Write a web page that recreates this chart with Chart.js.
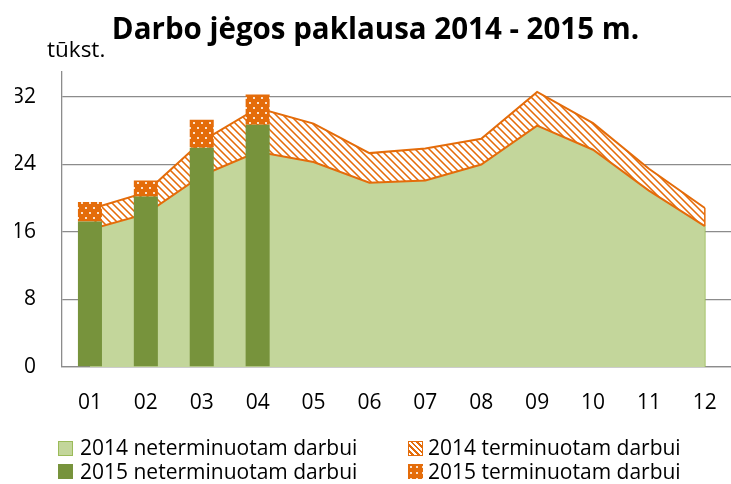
<!DOCTYPE html>
<html><head><meta charset="utf-8">
<script src="https://cdn.jsdelivr.net/npm/chart.js@4"></script>
<style>
html,body{margin:0;padding:0;overflow:hidden;background:#fff;width:731px;height:484px}
#wrap{position:relative;width:740px;height:484px}
#c{position:absolute;left:0;top:0}
.unit{position:absolute;left:47px;top:37.5px;font:22.5px "Open Sans";line-height:1;color:#000;white-space:nowrap}
.item{position:absolute;white-space:nowrap;font:21px "Open Sans";line-height:1;color:#000}
.sw{position:absolute;top:3.5px;left:0;width:15px;height:15px;box-sizing:border-box}
.item span.t{position:absolute;top:0}
</style></head>
<body>
<div id="wrap">
<canvas id="c" width="740" height="484"></canvas>
<div class="unit">tūkst.</div>
<div id="legend"></div>
</div>
<script>
const categories = ['01','02','03','04','05','06','07','08','09','10','11','12'];
const neterm2014 = [16.3, 18.15, 22.7, 25.5, 24.3, 21.85, 22.1, 24.0, 28.6, 25.75, 20.9, 16.7];
const term2014   = [2.4, 2.55, 4.05, 5.2, 4.55, 3.5, 3.8, 3.05, 4.0, 3.15, 2.6, 2.15];
const neterm2015 = [17.25, 20.2, 26.0, 28.7, null, null, null, null, null, null, null, null];
const term2015   = [2.3, 1.9, 3.3, 3.6, null, null, null, null, null, null, null, null];
const yTicks = [0, 8, 16, 24, 32];
const titleText = 'Darbo jėgos paklausa 2014 - 2015 m.';
const seriesNames = ['2014 neterminuotam darbui','2014 terminuotam darbui','2015 neterminuotam darbui','2015 terminuotam darbui'];

const LIGHT = '#C3D69B', LIGHT_BORDER = '#9BBB59', DARK = '#77933C', ORANGE = '#E46C0A', GRID = '#8c8c8c';

function stripePattern(){
  const p = 7, cv = document.createElement('canvas'); cv.width = p; cv.height = p;
  const ctx = cv.getContext('2d'); const img = ctx.createImageData(p, p);
  for (let y = 0; y < p; y++) for (let x = 0; x < p; x++) {
    const d = ((x - y) % p + p) % p; let c;
    if (d === 0) c = [228,108,10]; else if (d === 1 || d === 6) c = [240,168,110]; else c = [255,255,255];
    const i = (y*p + x)*4; img.data[i]=c[0]; img.data[i+1]=c[1]; img.data[i+2]=c[2]; img.data[i+3]=255;
  }
  ctx.putImageData(img, 0, 0);
  return ctx.createPattern(cv, 'repeat');
}
function dotPattern(){
  const cv = document.createElement('canvas'); cv.width = 8; cv.height = 10;
  const ctx = cv.getContext('2d');
  ctx.fillStyle = ORANGE; ctx.fillRect(0,0,8,10);
  ctx.fillStyle = '#fbe2cc';
  ctx.fillRect(1,2,2,2); ctx.fillRect(5,7,2,2);
  return ctx.createPattern(cv, 'repeat');
}
const stripes = stripePattern(), dots = dotPattern();

const edgePlugin = {
  id: 'edges',
  afterDatasetDraw(chart, args) {
    if (args.index !== 1) return;
    const m0 = chart.getDatasetMeta(0).data, m1 = chart.getDatasetMeta(1).data;
    const a = m0[m0.length-1], b = m1[m1.length-1];
    const ctx = chart.ctx, y0 = chart.scales.y.getPixelForValue(0);
    ctx.save(); ctx.lineWidth = 1.5;
    ctx.strokeStyle = LIGHT_BORDER; ctx.beginPath(); ctx.moveTo(a.x, y0); ctx.lineTo(a.x, a.y); ctx.stroke();
    ctx.strokeStyle = ORANGE; ctx.beginPath(); ctx.moveTo(b.x, a.y); ctx.lineTo(b.x, b.y); ctx.stroke();
    ctx.restore();
  }
};

const tickFont = {family: 'Open Sans', size: 21};
new Chart(document.getElementById('c'), {
  data: {
    labels: categories,
    datasets: [
      {type:'line', label: seriesNames[0], data: neterm2014, stack:'area', order:2, fill:'origin',
       backgroundColor: LIGHT, borderColor: ORANGE, borderWidth: 2, pointRadius: 0, tension: 0},
      {type:'line', label: seriesNames[1], data: term2014, stack:'area', order:2, fill:'-1',
       backgroundColor: stripes, borderColor: ORANGE, borderWidth: 2, pointRadius: 0, tension: 0},
      {type:'bar', label: seriesNames[2], data: neterm2015, stack:'bar', order:1,
       backgroundColor: DARK, borderWidth: 0, barPercentage: 0.43, categoryPercentage: 1},
      {type:'bar', label: seriesNames[3], data: term2015, stack:'bar', order:1,
       backgroundColor: dots, borderWidth: 0, barPercentage: 0.43, categoryPercentage: 1}
    ]
  },
  options: {
    responsive: false, animation: false, devicePixelRatio: 1,
    layout: {padding: {left: 15, right: 4, top: 0, bottom: 67}},
    plugins: {
      legend: {display: false}, tooltip: {enabled: false},
      title: {display: true, text: titleText, color: '#000', font: {family: 'Open Sans', size: 29.5, weight: 'bold', lineHeight: 1.2}, padding: {top: 13, bottom: 23.3}}
    },
    scales: {
      x: {stacked: true, grid: {display: false, drawTicks: false}, border: {color: GRID, width: 1.3},
          ticks: {font: tickFont, color: '#000', padding: 23}, afterFit(s){ s.height = 50; }},
      y: {stacked: true, min: 0, max: 35,
          ticks: {stepSize: 8, font: tickFont, color: '#000', padding: 26},
          afterBuildTicks(s){ s.ticks = yTicks.map(v => ({value: v})); },
          grid: {color: GRID, lineWidth: 1.3, drawTicks: false}, border: {color: GRID, width: 1.3},
          afterFit(s){ s.width = 47; }}
    }
  },
  plugins: [edgePlugin]
});

// HTML legend, 2 x 2
const legendEl = document.getElementById('legend');
const sw = [
  `background:${LIGHT};border:1.5px solid ${LIGHT_BORDER}`,
  `background:repeating-linear-gradient(45deg,#fff 0 2px,${ORANGE} 2px 4px);border:1.5px solid ${ORANGE}`,
  `background:${DARK}`,
  `background:${ORANGE} radial-gradient(circle,#fbe2cc 1px,transparent 1.5px) 0 0/6px 6px`
];
const pos = [[58,437,22],[408,437,20],[58,460.5,22],[408,460.5,20]];
seriesNames.forEach((n,i) => {
  const d = document.createElement('div'); d.className = 'item';
  d.style.left = pos[i][0] + 'px'; d.style.top = pos[i][1] + 'px';
  d.innerHTML = `<div class="sw" style="${sw[i]}"></div><span class="t" style="left:${pos[i][2]}px">${n}</span>`;
  legendEl.appendChild(d);
});
</script>
</body></html>
